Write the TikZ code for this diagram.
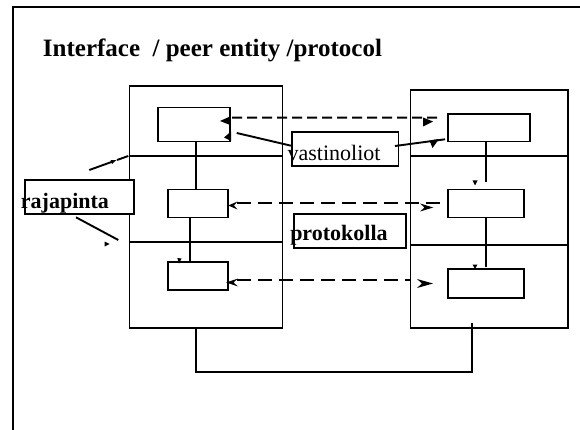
\documentclass[tikz,border=0pt]{standalone}
\usepackage{fontspec}
\setmainfont{Liberation Serif}
\usetikzlibrary{arrows.meta}
\begin{document}
\begin{tikzpicture}[x=1pt,y=-1pt, line width=1.9pt,
  box/.style={draw, rectangle, inner sep=0pt, outer sep=0pt},
  lbl/.style={draw, fill=white, rectangle, inner sep=0pt, outer sep=0pt},
  txt/.style={anchor=base west, inner sep=0pt, font=\fontsize{22}{26}\selectfont},
  btxt/.style={anchor=base west, inner sep=0pt, font=\fontsize{22}{26}\selectfont\bfseries},
  dsh/.style={dash pattern=on 14pt off 7pt},
  dshs/.style={dash pattern=on 10pt off 5pt}]
\useasboundingbox (0,0) rectangle (580,430);
% outer frame
\draw[line width=1.7pt] (13,432) -- (13,7) -- (582,7);
% title
\node[anchor=base west, inner sep=0pt, font=\fontsize{25}{30}\selectfont\bfseries] (T) at (42,56.7) {Interface\ \ / peer entity /protocol};
% big boxes
\node[box, minimum width=153pt, minimum height=242pt] (L) at (206,206.7) {};
\node[box, minimum width=157.5pt, minimum height=237.7pt] (R) at (489.25,208.85) {};
\draw ([yshift=51pt]L.west) -- ([yshift=51pt]L.east);
\draw ([yshift=-35pt]L.west) -- ([yshift=-35pt]L.east);
\draw ([yshift=53.15pt]R.west) -- ([yshift=53.15pt]R.east);
\draw ([yshift=-36.15pt]R.west) -- ([yshift=-36.15pt]R.east);
% inner boxes
\node[box, minimum width=72pt, minimum height=34pt] (LA) at (194,124.5) {};
\node[box, minimum width=60.6pt, minimum height=28pt] (LB) at (198,203.5) {};
\node[box, minimum width=60.6pt, minimum height=28pt] (LC) at (198,275.7) {};
\node[box, minimum width=82.5pt, minimum height=27.8pt] (RA) at (488.95,127.6) {};
\node[box, minimum width=76.6pt, minimum height=28pt] (RB) at (486,203.5) {};
\node[box, minimum width=76.6pt, minimum height=28.4pt] (RC) at (486,283.5) {};
% vertical connectors
\draw ([xshift=2pt]LA.south) -- ([xshift=-2pt]LB.north);
\draw ([xshift=-8pt]LB.south) -- ([xshift=-8pt]LC.north);
\draw ([xshift=-2.95pt]RA.south) -- ([yshift=7.5pt]RB.north);
\draw (RB.south) -- ([yshift=2.8pt]RC.north);
\fill (177.3,258) -- (181.5,258.5) -- (179,263.5) -- cycle;
\fill (472.5,180.5) -- (477.5,180.5) -- (475,185.5) -- cycle;
\fill (472.5,264.5) -- (477.5,264.5) -- (475,269) -- cycle;
% bottom connector
\draw ([xshift=-10pt]L.south) -- ++(0,44) -| ([xshift=-16.95pt,yshift=4.4pt]R.south);
% dashed peer arrows
\draw[dshs] ([xshift=2pt,yshift=6.8pt]LA.east) -- ([xshift=-9.7pt,yshift=9.9pt]RA.west);
\fill (230,116.5) -- (230,125) -- (220,121) -- cycle;
\fill (423,117.5) -- (433,121.5) -- (423,126.5) -- cycle;
\draw[dsh] ([xshift=8.7pt,yshift=0.2pt]LB.east) -- ([xshift=-7.7pt,yshift=0.2pt]RB.west);
\fill (228.3,205.5) -- (237.5,201.5) -- (234,205.5) -- (237.5,209.5) -- cycle;
\fill (433.3,207.5) -- (420,203.5) -- (424.5,207.5) -- (420,211.5) -- cycle;
\draw[dsh] ([xshift=8.7pt,yshift=-4.3pt]LC.east) -- ([xshift=-37.7pt,yshift=3.5pt]RC.west);
\fill (226,282.5) -- (238,278.5) -- (233.5,282.5) -- (238,286.5) -- cycle;
\fill (433,283.5) -- (417,279) -- (422,283.5) -- (417,288) -- cycle;
% label boxes
\node[lbl, minimum width=106.2pt, minimum height=34.3pt] (V) at (345.4,148.85) {};
\node[lbl, minimum width=109.3pt, minimum height=34pt] (J) at (79.65,197) {};
\node[lbl, minimum width=112pt, minimum height=34pt] (P) at (350,231) {};
% label connectors
\coordinate (va) at (236.7,133);
\coordinate (vb) at (445,139.3);
\draw ([yshift=2.85pt]V.west) -- (va);
\fill (231,131.5) -- (231,141) -- (224,137.5) -- cycle;
\draw ([xshift=-3.5pt,yshift=2.85pt]V.east) -- (vb);
\fill (429.5,140.5) -- (439,139) -- (432.5,148) -- cycle;
\coordinate (ja) at (89.3,170);
\coordinate (jm) at (117,160);
\coordinate (jb) at (128.3,156);
\draw[-{Latex[length=6pt,width=4.5pt]}] (ja) -- (jm);
\draw (jm) -- (jb);
\coordinate (jc) at (76,217.3);
\coordinate (jd) at (118.3,240);
\draw (jc) -- (jd);
\fill (104.5,241.5) -- (109.5,244) -- (104.5,246.5) -- cycle;
% label texts
\node[txt] (Vt) at (286.7,161) {vastinoliot};
\node[btxt] (Jt) at (20,208.3) {rajapinta};
\node[btxt] (Pt) at (289.3,240.7) {protokolla};
\end{tikzpicture}
\end{document}
